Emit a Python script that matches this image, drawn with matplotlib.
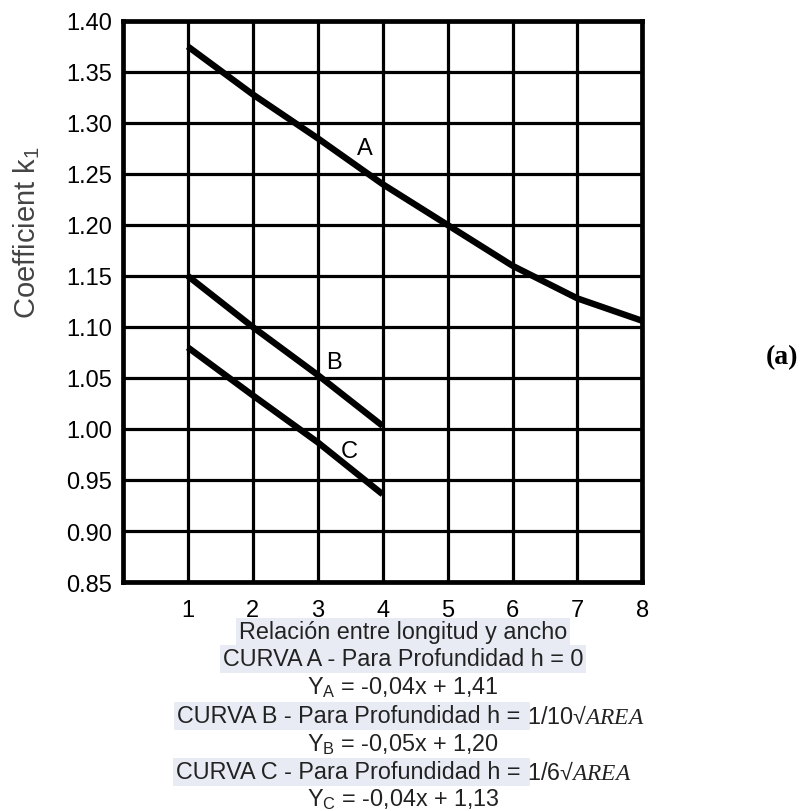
import numpy as np
import matplotlib.pyplot as plt

plt.rcParams['font.family'] = ['Liberation Sans', 'DejaVu Sans']
plt.rcParams['mathtext.fontset'] = 'custom'
plt.rcParams['mathtext.rm'] = 'Liberation Sans'
plt.rcParams['mathtext.sf'] = 'Liberation Sans'
plt.rcParams['mathtext.it'] = 'Liberation Serif:italic'

# curves
x_a = [1, 2, 3, 4, 5, 6, 7, 8]
k_a = [1.375, 1.328, 1.285, 1.240, 1.200, 1.160, 1.128, 1.106]
x_b = [1, 2, 3, 4]
k_b = [1.150, 1.100, 1.053, 1.003]
x_c = [1, 2, 3, 4]
k_c = [1.080, 1.033, 0.987, 0.936]

x_ticks = [1, 2, 3, 4, 5, 6, 7, 8]
y_ticks = [0.85, 0.90, 0.95, 1.00, 1.05, 1.10, 1.15, 1.20, 1.25, 1.30, 1.35, 1.40]

fig = plt.figure(figsize=(8.03, 8.12), dpi=100)
ax = fig.add_axes([0.153, 0.282, 0.647, 0.691])

for xs, ks in [(x_a, k_a), (x_b, k_b), (x_c, k_c)]:
    ax.plot(xs, ks, color='black', lw=4.6, solid_capstyle='butt', zorder=3)

ax.text(3.72, 1.275, 'A', fontsize=17, ha='center', va='center')
ax.text(3.25, 1.066, 'B', fontsize=17, ha='center', va='center')
ax.text(3.48, 0.978, 'C', fontsize=17, ha='center', va='center')

ax.set_xlim(0, 8)
ax.set_ylim(0.85, 1.40)
ax.set_xticks(x_ticks)
ax.set_yticks(y_ticks)
ax.set_yticklabels([f'{v:.2f}' for v in y_ticks])
ax.grid(True, color='black', lw=2.3)
ax.set_axisbelow(True)
for s in ax.spines.values():
    s.set_linewidth(3.4)
ax.tick_params(length=0, labelsize=17, colors='black')
ax.tick_params(axis='y', pad=8)
ax.tick_params(axis='x', pad=12)

fig.text(0.034, 0.713, 'Coefficient k$_\\mathrm{1}$', rotation=90, fontsize=21,
         color='#444444', ha='center', va='center')
fig.text(0.974, 0.56, '(a)', fontsize=20, fontweight='bold',
         family=['Liberation Serif', 'DejaVu Serif'], ha='center', va='center')

hl = dict(boxstyle='square,pad=0.12', fc='#e8ebf4', ec='none')
tc = '#222222'
fs = 16.8
fig.text(0.502, 1 - 633 / 812, 'Relación entre longitud y ancho', fontsize=fs,
         color=tc, ha='center', va='center', bbox=hl)
fig.text(0.502, 1 - 660 / 812, 'CURVA A - Para Profundidad h = 0', fontsize=fs,
         color=tc, ha='center', va='center', bbox=hl)
fig.text(0.502, 1 - 688 / 812, 'Y$_\\mathrm{A}$ = -0,04x + 1,41', fontsize=fs,
         color=tc, ha='center', va='center')
fig.text(0.656, 1 - 717 / 812, 'CURVA B - Para Profundidad h = ', fontsize=fs,
         color=tc, ha='right', va='center', bbox=hl)
fig.text(0.656, 1 - 717 / 812, '1/10√$AREA$', fontsize=fs,
         color=tc, ha='left', va='center')
fig.text(0.502, 1 - 745 / 812, 'Y$_\\mathrm{B}$ = -0,05x + 1,20', fontsize=fs,
         color=tc, ha='center', va='center')
fig.text(0.656, 1 - 773 / 812, 'CURVA C - Para Profundidad h = ', fontsize=fs,
         color=tc, ha='right', va='center', bbox=hl)
fig.text(0.656, 1 - 773 / 812, '1/6√$AREA$', fontsize=fs,
         color=tc, ha='left', va='center')
fig.text(0.502, 1 - 800 / 812, 'Y$_\\mathrm{C}$ = -0,04x + 1,13', fontsize=fs,
         color=tc, ha='center', va='center')

fig.savefig('out.png', dpi=100)
